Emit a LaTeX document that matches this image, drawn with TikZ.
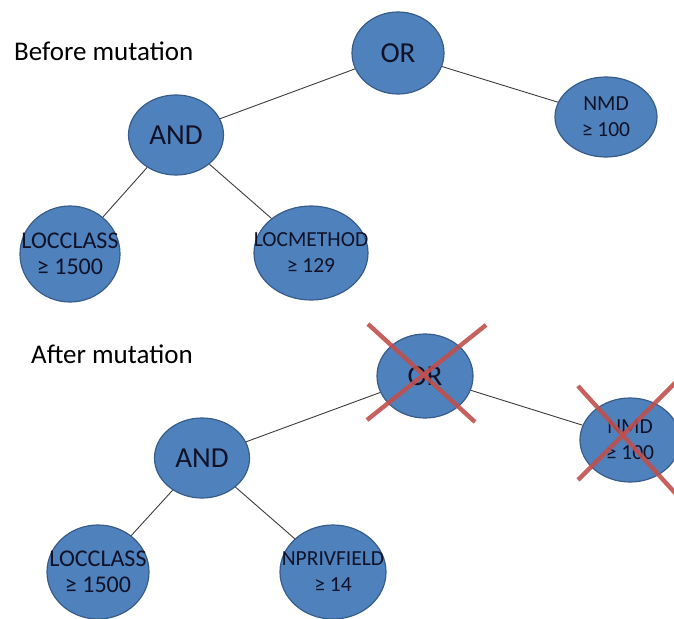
\documentclass[tikz,border=0pt]{standalone}
\usepackage{fontspec}
\setmainfont{Carlito}
\usetikzlibrary{shapes.geometric}
\definecolor{nodefill}{HTML}{4F81BD}
\definecolor{nodeline}{HTML}{385D8A}
\definecolor{inktext}{RGB}{16,18,40}
\definecolor{edgeline}{RGB}{60,60,60}
\definecolor{crossred}{HTML}{C0504D}
\tikzset{
  blob/.style={ellipse, draw=nodeline, fill=nodefill, line width=1.2pt, inner sep=0pt},
  bigtext/.style={text=inktext, font=\fontsize{29}{32}\selectfont, align=center},
  smalltext/.style={text=inktext, font=\fontsize{21.5}{26}\selectfont, align=center},
  widetext/.style={text=inktext, font=\fontsize{24}{26}\selectfont, align=center},
  treeedge/.style={draw=edgeline, line width=0.9pt},
  strike/.style={draw=crossred, line width=4.4pt, opacity=0.9},
  heading/.style={text=black, font=\fontsize{27}{30}\selectfont, anchor=base west, inner sep=0pt}
}
\begin{document}
\begin{tikzpicture}[x=1pt, y=-1pt]
\useasboundingbox (0,0) rectangle (674,618);

% ---- tree before the mutation ----
\node[heading] (title1) at (14,60) {Before mutation};
\node[blob, minimum width=92pt, minimum height=82pt] (or1) at (398,53) {};
\node[bigtext] (or1t) at (or1.center) {OR};
\node[blob, minimum width=102pt, minimum height=80pt] (nmd1) at (606,117) {};
\node[smalltext] (nmd1t) at (nmd1.center) {NMD\\≥ 100};
\node[blob, minimum width=95pt, minimum height=80pt] (and1) at (176,135) {};
\node[bigtext] (and1t) at (and1.center) {AND};
\node[blob, minimum width=100pt, minimum height=96pt] (loc1) at (70,254) {};
\node[widetext] (loc1t) at (loc1.center) {LOCCLASS\\≥ 1500};
\node[blob, minimum width=114pt, minimum height=94pt] (meth1) at (311,253) {};
\node[smalltext] (meth1t) at (meth1.center) {LOCMETHOD\\≥ 129};

\draw[treeedge] (or1) -- (and1);
\draw[treeedge] (or1) -- (nmd1);
\draw[treeedge] (and1) -- (loc1);
\draw[treeedge] (and1) -- (meth1);

% ---- tree after the mutation ----
\node[heading] (title2) at (31,363) {After mutation};
\node[blob, minimum width=96pt, minimum height=84pt] (or2) at (425,376) {};
\node[bigtext] (or2t) at (or2.center) {OR};
\node[blob, minimum width=100pt, minimum height=84pt] (nmd2) at (630,440) {};
\node[smalltext] (nmd2t) at (nmd2.center) {NMD\\≥ 100};
\node[blob, minimum width=95pt, minimum height=80pt] (and2) at (202,458) {};
\node[bigtext] (and2t) at (and2.center) {AND};
\node[blob, minimum width=102pt, minimum height=94pt] (loc2) at (98,572) {};
\node[widetext] (loc2t) at (loc2.center) {LOCCLASS\\≥ 1500};
\node[blob, minimum width=106pt, minimum height=94pt] (npf2) at (333,572) {};
\node[smalltext] (npf2t) at (npf2.center) {NPRIVFIELD\\≥ 14};

\draw[treeedge] (or2) -- (and2);
\draw[treeedge] (or2) -- (nmd2);
\draw[treeedge] (and2) -- (loc2);
\draw[treeedge] (and2) -- (npf2);

% ---- crosses over the removed nodes ----
\draw[strike] (368,324) -- (475,422);
\draw[strike] (486,325) -- (367,420);
\draw[strike] (578,386) -- (676,494);
\draw[strike] (676,382) -- (578,480);
\end{tikzpicture}
\end{document}
